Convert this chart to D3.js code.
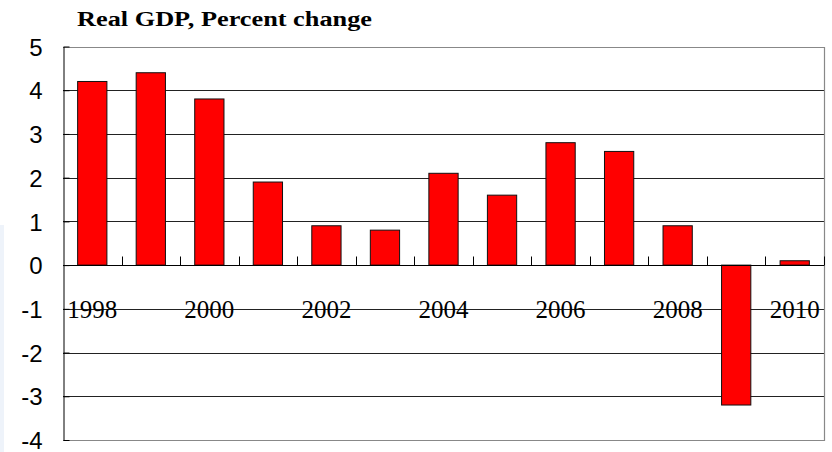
<!DOCTYPE html>
<html>
<head>
<meta charset="utf-8">
<script src="https://cdn.jsdelivr.net/npm/d3@7"></script>
<style>
  body { margin: 0; background: #fff; }
  svg { display: block; }
</style>
</head>
<body>
<svg id="chart" width="832" height="452"></svg>
<script>
// Data

const years = ['1998', '1999', '2000', '2001', '2002', '2003', '2004', '2005', '2006', '2007', '2008', '2009', '2010'];
const growth = [4.2, 4.4, 3.8, 1.9, 0.9, 0.8, 2.1, 1.6, 2.8, 2.6, 0.9, -3.2, 0.1];
const yTicks = [5, 4, 3, 2, 1, 0, -1, -2, -3, -4];
const yearLabels = ['1998', '2000', '2002', '2004', '2006', '2008', '2010'];
const title = 'Real GDP, Percent change';

// Layout

const svg = d3.select('#chart');
const plotLeft = 63, plotRight = 824, plotTop = 46.5, plotBottom = 440;

const x = d3.scaleBand().domain(years).range([plotLeft, plotRight]).paddingInner(0.5).paddingOuter(0.25);
const y = d3.scaleLinear().domain([-4, 5]).range([plotBottom, plotTop]);

// faint strip at the left edge
svg.append('rect')
    .attr('x', 0).attr('y', 225).attr('width', 4).attr('height', 227)
    .attr('fill', '#eef3fa');

// Gridlines
svg.append('g')
    .selectAll('line')
    .data(yTicks.filter(d => d !== 5 && d !== -4))
    .join('line')
    .attr('x1', plotLeft).attr('x2', plotRight)
    .attr('y1', d => Math.round(y(d)) + 0.5)
    .attr('y2', d => Math.round(y(d)) + 0.5)
    .attr('stroke', '#222')
    .attr('stroke-width', 1);

// Plot frame (top / right / bottom in grey)
svg.append('path')
    .attr('d', `M${plotLeft},${Math.round(plotTop) + 0.5}H${plotRight + 0.5}V${Math.round(plotBottom) + 0.5}H${plotLeft}`)
    .attr('fill', 'none')
    .attr('stroke', '#888')
    .attr('stroke-width', 1.2);

// Left axis with ticks and labels
const yAxis = d3.axisLeft(y).tickValues(yTicks).tickSize(0).tickPadding(21).tickFormat(d => d);
const gy = svg.append('g')
    .attr('transform', `translate(${plotLeft + 0.5},0)`)
    .call(yAxis);
gy.select('.domain').attr('stroke', '#000');
gy.selectAll('text')
    .attr('font-family', 'Liberation Sans, Arial, sans-serif')
    .attr('font-size', 24)
    .attr('dy', '0.36em')
    .attr('fill', '#000');
gy.selectAll('.tick')
    .append('line')
    .attr('x1', 0).attr('x2', 6)
    .attr('stroke', '#000');

// Bars
svg.append('g')
    .selectAll('rect')
    .data(growth)
    .join('rect')
    .attr('x', (d, i) => x(years[i]))
    .attr('width', x.bandwidth())
    .attr('y', d => y(Math.max(0, d)))
    .attr('height', d => Math.abs(y(d) - y(0)))
    .attr('fill', '#ff0000')
    .attr('stroke', '#111')
    .attr('stroke-width', 1);

// Zero axis with category separator ticks
const zeroY = Math.round(y(0)) + 0.5;
svg.append('line')
    .attr('x1', plotLeft).attr('x2', plotRight)
    .attr('y1', zeroY).attr('y2', zeroY)
    .attr('stroke', '#000');

const step = x.step();
svg.append('g')
    .selectAll('line')
    .data(years.slice(1).concat(['end']))
    .join('line')
    .attr('x1', (d, i) => Math.round(plotLeft + step * (i + 1)) + 0.5)
    .attr('x2', (d, i) => Math.round(plotLeft + step * (i + 1)) + 0.5)
    .attr('y1', zeroY)
    .attr('y2', zeroY - 9)
    .attr('stroke', '#000');

// Year labels
svg.append('g')
    .selectAll('text')
    .data(yearLabels)
    .join('text')
    .attr('x', d => x(d) + x.bandwidth() / 2)
    .attr('y', 318)
    .attr('text-anchor', 'middle')
    .attr('font-family', 'Liberation Serif, Times New Roman, serif')
    .attr('font-size', 25)
    .attr('fill', '#000')
    .text(d => d);

// Title
svg.append('text')
    .attr('x', 77)
    .attr('y', 26)
    .attr('font-family', 'Liberation Serif, Times New Roman, serif')
    .attr('font-weight', 'bold')
    .attr('font-size', 20)
    .attr('textLength', 295)
    .attr('lengthAdjust', 'spacingAndGlyphs')
    .attr('fill', '#000')
    .text(title);
</script>
</body>
</html>
